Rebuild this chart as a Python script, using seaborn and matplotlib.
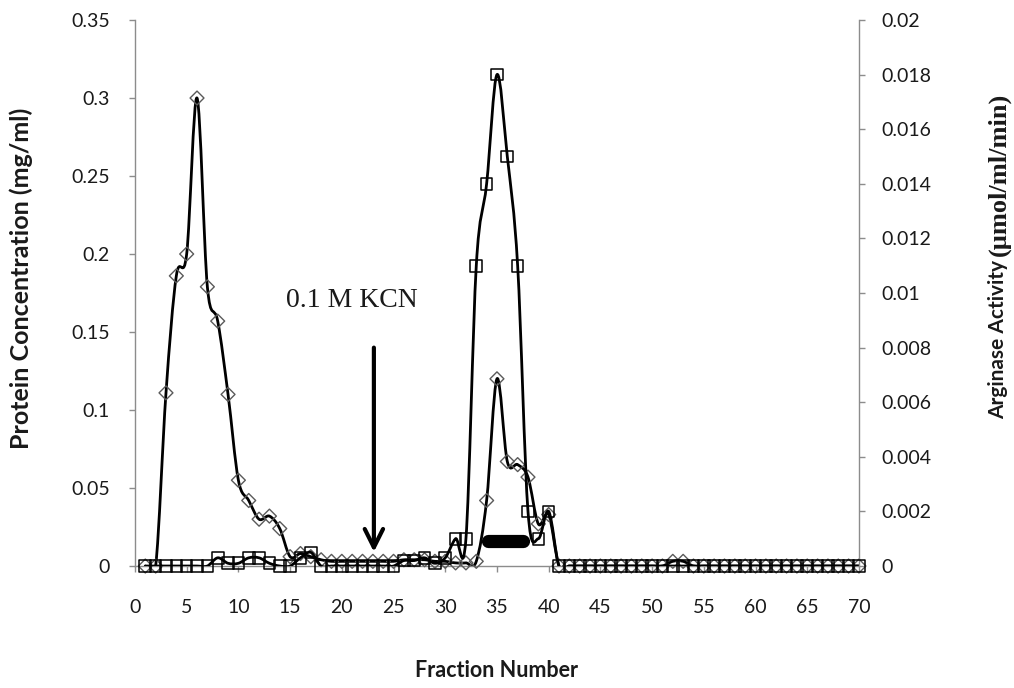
import numpy as np
import matplotlib
matplotlib.use("Agg")
import matplotlib.pyplot as plt
from matplotlib.path import Path
from matplotlib.patches import PathPatch
from matplotlib.ticker import FuncFormatter, MultipleLocator
import seaborn as sns
import pandas as pd

# Elution profile: fraction number vs protein and arginase activity
fractions = list(range(1, 71))

protein_mg_ml = [
    0.000, 0.000, 0.111, 0.186, 0.200, 0.300, 0.179, 0.157, 0.110, 0.055,   # 1-10
    0.042, 0.030, 0.032, 0.024, 0.006, 0.008, 0.006, 0.004, 0.003, 0.003,   # 11-20
    0.003, 0.003, 0.003, 0.003, 0.003, 0.004, 0.004, 0.004, 0.003, 0.003,   # 21-30
    0.002, 0.002, 0.003, 0.042, 0.120, 0.067, 0.065, 0.057, 0.027, 0.033,   # 31-40
    0.000, 0.000, 0.000, 0.000, 0.000, 0.000, 0.000, 0.000, 0.000, 0.000,   # 41-50
    0.000, 0.003, 0.003, 0.000, 0.000, 0.000, 0.000, 0.000, 0.000, 0.000,   # 51-60
    0.000, 0.000, 0.000, 0.000, 0.000, 0.000, 0.000, 0.000, 0.000, 0.000,   # 61-70
]

arginase_activity = [
    0.0000, 0.0000, 0.0000, 0.0000, 0.0000, 0.0000, 0.0000, 0.0003, 0.0001, 0.0001,  # 1-10
    0.0003, 0.0003, 0.0001, 0.0000, 0.0000, 0.0003, 0.0005, 0.0000, 0.0000, 0.0000,  # 11-20
    0.0000, 0.0000, 0.0000, 0.0000, 0.0000, 0.0002, 0.0002, 0.0003, 0.0001, 0.0003,  # 21-30
    0.0010, 0.0010, 0.0110, 0.0140, 0.0180, 0.0150, 0.0110, 0.0020, 0.0010, 0.0020,  # 31-40
    0.0000, 0.0000, 0.0000, 0.0000, 0.0000, 0.0000, 0.0000, 0.0000, 0.0000, 0.0000,  # 41-50
    0.0000, 0.0000, 0.0000, 0.0000, 0.0000, 0.0000, 0.0000, 0.0000, 0.0000, 0.0000,  # 51-60
    0.0000, 0.0000, 0.0000, 0.0000, 0.0000, 0.0000, 0.0000, 0.0000, 0.0000, 0.0000,  # 61-70
]

# Pooled active fractions (black bar) and KCN application point
pooled_range = [34.1, 37.5]
pooled_level = 0.0163
kcn_fraction = 23.1
kcn_arrow_top = 0.140
kcn_arrow_tip = 0.009
kcn_label = "0.1 M KCN"

x_ticks = list(range(0, 75, 5))

df = pd.DataFrame({"fraction": fractions,
                   "protein": protein_mg_ml,
                   "activity": arginase_activity})

sns.set_theme(style="white")
plt.rcParams["font.family"] = ["Lato", "DejaVu Sans"]

SPINE = "#8c8c8c"
TEXT = "#1a1a1a"


def smooth_curve(ax, x, y, **kw):
    """Draw a Catmull-Rom style smoothed line through the points."""
    pts = np.column_stack([x, y]).astype(float)
    n = len(pts)
    verts = [pts[0]]
    codes = [Path.MOVETO]
    for i in range(n - 1):
        p0 = pts[i - 1] if i > 0 else pts[i]
        p1 = pts[i]
        p2 = pts[i + 1]
        p3 = pts[i + 2] if i + 2 < n else pts[i + 1]
        verts += [p1 + (p2 - p0) / 6.0, p2 - (p3 - p1) / 6.0, p2]
        codes += [Path.CURVE4] * 3
    patch = PathPatch(Path(verts, codes), facecolor="none", **kw)
    ax.add_patch(patch)
    return patch


fig = plt.figure(figsize=(10.14, 6.88), dpi=100)
ax = fig.add_axes([0.1331, 0.1773, 0.7140, 0.7936])
ax2 = ax.twinx()

# Protein concentration (left axis): smoothed line + open diamonds
smooth_curve(ax, df["fraction"], df["protein"], edgecolor="black", lw=2.0,
             zorder=2, capstyle="round", joinstyle="round")
sns.scatterplot(data=df, x="fraction", y="protein", ax=ax, marker="D", s=50,
                facecolor="none", edgecolor="#5a5a5a", linewidth=1.0,
                zorder=3, clip_on=False, legend=False)

# Arginase activity (right axis): smoothed line + open squares
smooth_curve(ax2, df["fraction"], df["activity"], edgecolor="black", lw=2.0,
             zorder=2, capstyle="round", joinstyle="round")
sns.scatterplot(data=df, x="fraction", y="activity", ax=ax2, marker="s", s=70,
                facecolor="none", edgecolor="black", linewidth=1.1,
                zorder=3, clip_on=False, legend=False)
ax2.set_ylabel("")
ax2.set_xlabel("")

# Pooled fractions bar
ax.plot(pooled_range, [pooled_level, pooled_level], color="black", lw=9.5,
        solid_capstyle="round", zorder=4)

# KCN arrow and label
ax.annotate("", xy=(kcn_fraction, kcn_arrow_tip), xytext=(kcn_fraction, kcn_arrow_top),
            arrowprops=dict(arrowstyle="->,head_length=1.1,head_width=0.55",
                            color="black", lw=3.0, shrinkA=0, shrinkB=0),
            zorder=5)
ax.text(21.0, 0.170, kcn_label, ha="center", va="center", fontsize=20,
        family="Liberation Serif", color=TEXT)

# Axes limits and ticks
ax.set_xlim(0, 70)
ax.set_ylim(0, 0.35)
ax2.set_ylim(0, 0.02)
ax.set_xticks(x_ticks)
ax.yaxis.set_major_locator(MultipleLocator(0.05))
ax2.yaxis.set_major_locator(MultipleLocator(0.002))
fmt = FuncFormatter(lambda v, _: f"{round(v, 6):g}")
ax.yaxis.set_major_formatter(fmt)
ax2.yaxis.set_major_formatter(fmt)

for a in (ax, ax2):
    a.spines["top"].set_visible(False)
    for side in ("left", "right", "bottom"):
        a.spines[side].set_color(SPINE)
        a.spines[side].set_linewidth(1.0)
ax.spines["right"].set_visible(False)
ax2.spines["left"].set_visible(False)
ax2.spines["bottom"].set_visible(False)

ax.tick_params(axis="x", direction="out", length=4, width=1, color=SPINE,
               labelsize=14, labelcolor=TEXT, pad=20, bottom=True)
ax.tick_params(axis="y", direction="out", length=4, width=1, color=SPINE,
               labelsize=14, labelcolor=TEXT, pad=14, left=True)
ax2.tick_params(axis="y", direction="out", length=4, width=1, color=SPINE,
                labelsize=14, labelcolor=TEXT, pad=12, right=True)

# Axis titles
ax.set_xlabel("Fraction Number", fontsize=15.5, fontweight="bold", color=TEXT)
ax.xaxis.set_label_coords(0.5, -0.172)
ax.set_ylabel("Protein Concentration (mg/ml)", fontsize=18, fontweight="bold",
              color=TEXT)
ax.yaxis.set_label_coords(-0.141, 0.527)

# Right-hand title: sans part followed by the unit in bold serif
right_x = 1.178
t1 = ax.text(right_x, 0.270, "Arginase Activity", transform=ax.transAxes,
             rotation=90, rotation_mode="anchor", ha="left", va="top",
             fontsize=15, fontweight="bold", color=TEXT)
fig.canvas.draw()
bb = t1.get_window_extent()
top_axes = ax.transAxes.inverted().transform((0, bb.y1 + 4))[1]
ax.text(right_x, top_axes, "(\u00b5mol/ml/min)", transform=ax.transAxes,
        rotation=90, rotation_mode="anchor", ha="left", va="top",
        fontsize=19, fontweight="bold", family="Liberation Serif", color=TEXT)

fig.savefig("out.png", dpi=100, facecolor="white")
